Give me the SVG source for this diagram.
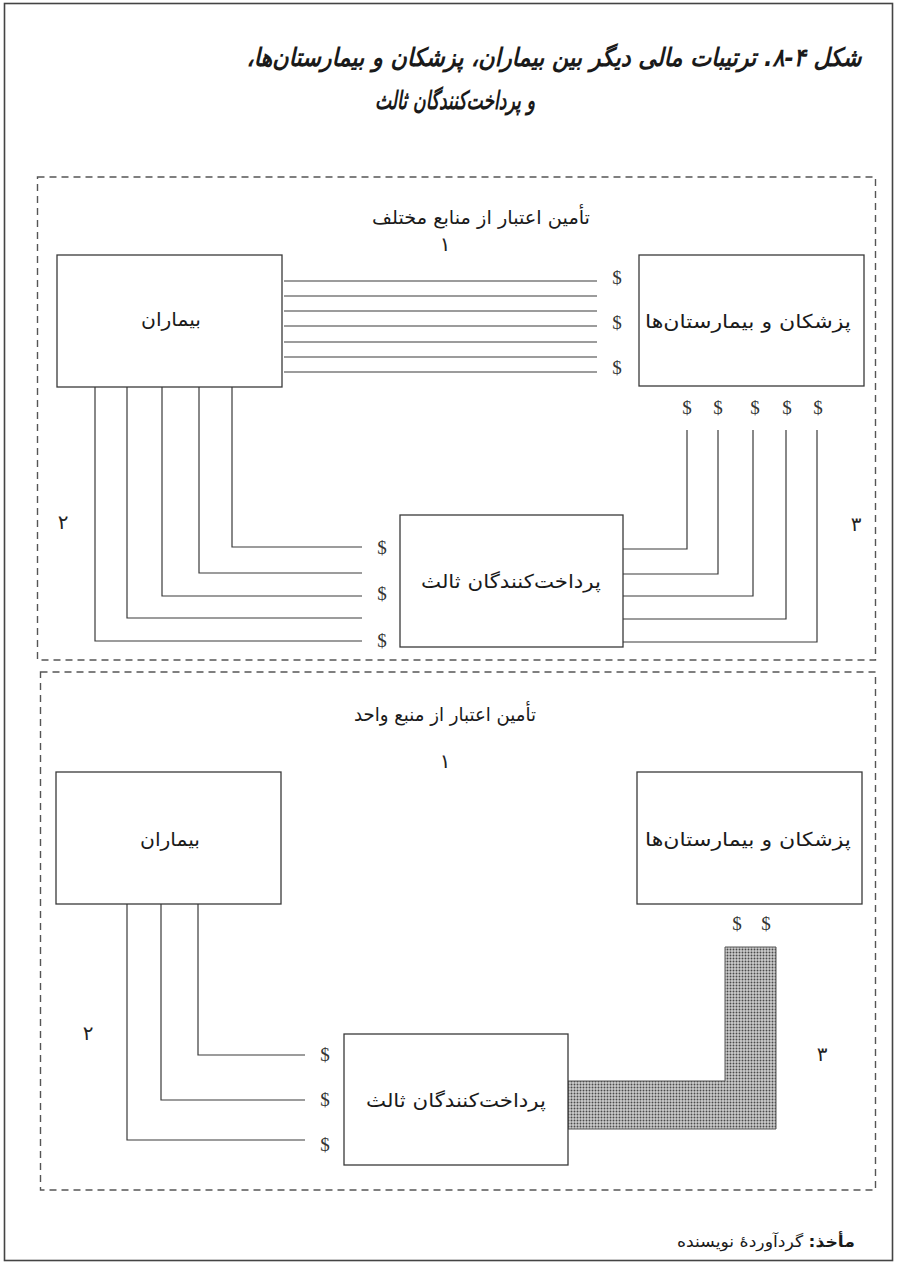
<svg xmlns="http://www.w3.org/2000/svg" width="897" height="1264" viewBox="0 0 897 1264">
<style>
.fa{font-family:"DejaVu Sans",sans-serif;fill:#1a1a1a;direction:rtl}
.lbl{font-size:19px}
.num{font-size:20px;font-family:"DejaVu Sans",sans-serif;fill:#222}
.dol{font-family:"Liberation Serif",serif;font-size:19px;fill:#333;text-anchor:middle}
.box{fill:#fff;stroke:#3a3a3a;stroke-width:1.3}
.ln{fill:none;stroke:#3a3a3a;stroke-width:1.2}
.dash{fill:none;stroke:#555;stroke-width:1.4;stroke-dasharray:7 5}
</style>
<defs>
<pattern id="dots" width="3" height="3" patternUnits="userSpaceOnUse">
<rect width="3" height="3" fill="#cccccc"/>
<circle cx="1.5" cy="1.5" r="0.95" fill="#4a4a4a"/>
</pattern>
</defs>
<rect x="0" y="0" width="897" height="1264" fill="#fff"/>
<rect x="4.5" y="3.5" width="888" height="1257" fill="none" stroke="#444" stroke-width="1.6"/>

<g id="title">
<text class="fa" x="554" y="66" font-size="25" font-weight="bold" font-style="italic" text-anchor="middle" textLength="615" lengthAdjust="spacingAndGlyphs">شکل ۴-۸. ترتیبات مالی دیگر بین بیماران، پزشکان و بیمارستان&#x200C;ها،</text>
<text class="fa" x="455" y="109" font-size="25" font-weight="bold" font-style="italic" text-anchor="middle" textLength="160" lengthAdjust="spacingAndGlyphs">و پرداخت&#x200C;کنندگان ثالث</text>
</g>

<g id="frames">
<rect class="dash" x="37.5" y="177" width="838" height="483"/>
<rect class="dash" x="40.5" y="672" width="835" height="518"/>
</g>

<!-- Top section -->
<g id="top-heading">
<text class="fa lbl" x="481" y="224" text-anchor="middle" textLength="218" lengthAdjust="spacingAndGlyphs">تأمین اعتبار از منابع مختلف</text>
<text class="num" x="445" y="251" text-anchor="middle">۱</text>
<text class="num" x="63" y="529" text-anchor="middle">۲</text>
<text class="num" x="856" y="531" text-anchor="middle">۳</text>
</g>

<g id="connectors-top">
<path class="ln" d="M284 281H597M284 296H597M284 311H597M284 326H597M284 342H597M284 357H597M284 372H597"/>
<path class="ln" d="M95 387V641H362M127 387V618H362M162 387V596H362M199 387V573H362M232 387V547H362"/>
<path class="ln" d="M623 549H687V430M623 574H718V430M623 596H753V430M623 619H786V430M623 642H817V430"/>
<text class="dol" x="617" y="284">$</text>
<text class="dol" x="617" y="329">$</text>
<text class="dol" x="617" y="374">$</text>
<text class="dol" x="687" y="414">$</text>
<text class="dol" x="718" y="414">$</text>
<text class="dol" x="755" y="414">$</text>
<text class="dol" x="787" y="414">$</text>
<text class="dol" x="818" y="414">$</text>
<text class="dol" x="382" y="554">$</text>
<text class="dol" x="382" y="600">$</text>
<text class="dol" x="382" y="647">$</text>
</g>

<g id="patients-top">
<rect class="box" x="57" y="255" width="225" height="132"/>
<text class="fa lbl" x="171" y="326" text-anchor="middle" textLength="60" lengthAdjust="spacingAndGlyphs">بیماران</text>
</g>
<g id="providers-top">
<rect class="box" x="639" y="255" width="225" height="131"/>
<text class="fa lbl" x="748" y="328" text-anchor="middle" textLength="206" lengthAdjust="spacingAndGlyphs">پزشکان و بیمارستان&#x200C;ها</text>
</g>
<g id="payers-top">
<rect class="box" x="400" y="515" width="223" height="132"/>
<text class="fa lbl" x="511" y="588" text-anchor="middle" textLength="180" lengthAdjust="spacingAndGlyphs">پرداخت&#x200C;کنندگان ثالث</text>
</g>

<!-- Bottom section -->
<g id="bottom-heading">
<text class="fa lbl" x="445" y="721" text-anchor="middle" textLength="182" lengthAdjust="spacingAndGlyphs">تأمین اعتبار از منبع واحد</text>
<text class="num" x="445" y="768" text-anchor="middle">۱</text>
<text class="num" x="88" y="1040" text-anchor="middle">۲</text>
<text class="num" x="822" y="1061" text-anchor="middle">۳</text>
</g>

<g id="connectors-bottom">
<path class="ln" d="M198 904V1055H305M161 904V1100H305M127 904V1140H305"/>
<polygon points="725,947 776,947 776,1129 568,1129 568,1081 725,1081" fill="url(#dots)" stroke="#555" stroke-width="1"/>
<text class="dol" x="325" y="1061">$</text>
<text class="dol" x="325" y="1106">$</text>
<text class="dol" x="325" y="1151">$</text>
<text class="dol" x="737" y="930">$</text>
<text class="dol" x="766" y="930">$</text>
</g>

<g id="patients-bottom">
<rect class="box" x="56" y="772" width="225" height="132"/>
<text class="fa lbl" x="170" y="846" text-anchor="middle" textLength="60" lengthAdjust="spacingAndGlyphs">بیماران</text>
</g>
<g id="providers-bottom">
<rect class="box" x="637" y="772" width="225" height="132"/>
<text class="fa lbl" x="748" y="846" text-anchor="middle" textLength="206" lengthAdjust="spacingAndGlyphs">پزشکان و بیمارستان&#x200C;ها</text>
</g>
<g id="payers-bottom">
<rect class="box" x="344" y="1034" width="224" height="131"/>
<text class="fa lbl" x="456" y="1107" text-anchor="middle" textLength="180" lengthAdjust="spacingAndGlyphs">پرداخت&#x200C;کنندگان ثالث</text>
</g>

<g id="source">
<text class="fa" x="766" y="1247" font-size="16" text-anchor="middle" textLength="178" lengthAdjust="spacingAndGlyphs"><tspan font-weight="bold">مأخذ:</tspan><tspan> گردآوردهٔ نویسنده</tspan></text>
</g>
</svg>
